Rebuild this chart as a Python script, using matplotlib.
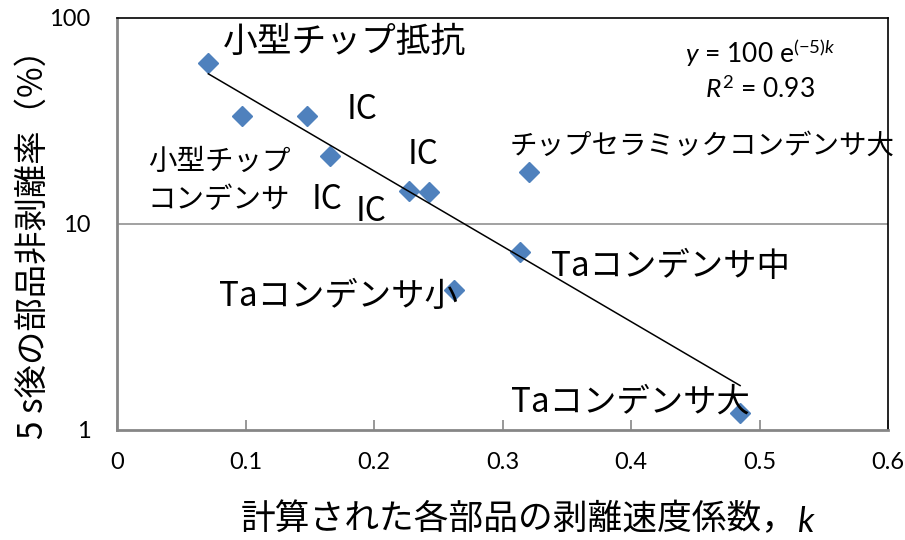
import numpy as np
import matplotlib
matplotlib.use("Agg")
import matplotlib.pyplot as plt

# Peel-off rate constants and survival after 5 s for each component
k_values = [0.0711, 0.0970, 0.1481, 0.1658, 0.2275, 0.2428, 0.3209, 0.3136, 0.2624, 0.4849]
survival_pct = [60.3, 33.6, 33.3, 21.5, 14.4, 14.3, 17.9, 7.34, 4.78, 1.205]

x_ticks = [0, 0.1, 0.2, 0.3, 0.4, 0.5, 0.6]
x_tick_labels = ["0", "0.1", "0.2", "0.3", "0.4", "0.5", "0.6"]
y_ticks = [1, 10, 100]
y_tick_labels = ["1", "10", "100"]

x_label = "計算された各部品の剥離速度係数，"
y_label = "5 s後の部品非剥離率（%）"

# Component labels: text, axes-fraction position, font size
point_labels = [
    ("小型チップ抵抗", 0.137, 0.940, 25),
    ("IC", 0.298, 0.777, 24),
    ("小型チップ", 0.040, 0.651, 20.5),
    ("コンデンサ", 0.040, 0.559, 20.5),
    ("IC", 0.253, 0.559, 24),
    ("IC", 0.309, 0.530, 24),
    ("IC", 0.377, 0.668, 24),
    ("チップセラミックコンデンサ大", 0.509, 0.688, 19.8),
    ("Taコンデンサ中", 0.563, 0.397, 24),
    ("Taコンデンサ小", 0.132, 0.3245, 24),
    ("Taコンデンサ大", 0.511, 0.068, 24),
]

eq_text = r"$\it{y}$ = 100 e$^{(\mathrm{-5})\it{k}}$"
r2_text = r"$\it{R}^{\mathrm{2}}$ = 0.93"

JP = ["Noto Sans CJK JP", "DejaVu Sans"]
plt.rcParams["mathtext.fontset"] = "custom"
plt.rcParams["mathtext.rm"] = "Lato"
plt.rcParams["mathtext.it"] = "Lato:italic"

fig = plt.figure(figsize=(9.05, 5.40), dpi=100)
ax = fig.add_axes([117 / 905, 1 - 430 / 540, 771 / 905, 412 / 540])

ax.set_yscale("log")
ax.set_xlim(0, 0.6)
ax.set_ylim(1, 100)

ax.plot(k_values, survival_pct, linestyle="none", marker="D", markersize=10,
        color="#4F81BD", markeredgecolor="#4F81BD", zorder=3)

# Exponential trendline fitted on ln(y)
kx = np.array(k_values)
slope, intercept = np.polyfit(kx, np.log(survival_pct), 1)
xs = np.linspace(kx.min(), kx.max(), 50)
ax.plot(xs, np.exp(intercept + slope * xs), color="black", lw=1.1, zorder=4)

# Grid line at 10 only
ax.axhline(10, color="#9a9a9a", lw=1.3, zorder=1)

ax.set_xticks(x_ticks)
ax.set_xticklabels(x_tick_labels, fontfamily="Lato", fontsize=17)
ax.set_yticks(y_ticks)
ax.set_yticklabels(y_tick_labels, fontfamily="Lato", fontsize=17)
ax.yaxis.set_minor_locator(matplotlib.ticker.NullLocator())
ax.xaxis.set_minor_locator(matplotlib.ticker.NullLocator())
ax.tick_params(axis="x", direction="in", length=7, width=1.2, color="#868686", pad=16)
ax.tick_params(axis="y", length=0, pad=19)

for side in ("left", "bottom"):
    ax.spines[side].set_color("#868686")
    ax.spines[side].set_linewidth(2.0)
for side in ("top", "right"):
    ax.spines[side].set_color("black")
    ax.spines[side].set_linewidth(1.2)

for text, fx, fy, size in point_labels:
    ax.text(fx, fy, text, transform=ax.transAxes, ha="left", va="center",
            fontsize=size, family=JP, zorder=5)

ax.text(0.834, 0.915, eq_text, transform=ax.transAxes, ha="center", va="center",
        fontsize=19, family="Lato")
ax.text(0.834, 0.826, r2_text, transform=ax.transAxes, ha="center", va="center",
        fontsize=19, family="Lato")

# Axis titles
xl = fig.text(241 / 905, 1 - 520 / 540, x_label, ha="left", va="center",
              fontsize=25, family=JP)
ax.annotate("k", xy=(1, 0), xycoords=xl, xytext=(0, 0), textcoords="offset points",
            ha="left", va="bottom", fontsize=25, family="Lato", style="italic",
            annotation_clip=False)
fig.text(33 / 905, 1 - 236 / 540, y_label, ha="center", va="center",
         rotation=90, fontsize=24, family=JP)

fig.savefig("out.png", dpi=100)
